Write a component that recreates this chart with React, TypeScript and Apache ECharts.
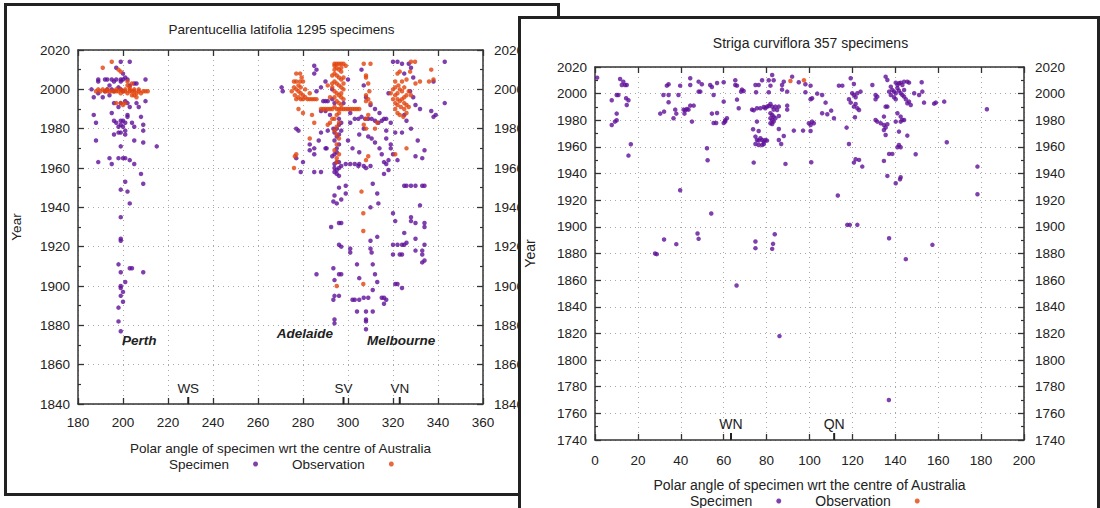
import React, { useEffect, useRef } from "react";
import * as echarts from "echarts";

const FONT = '"Liberation Sans", Arial, Helvetica, sans-serif';
const PURPLE = "#5f0f98";
const ORANGE = "#e2440c";
const INK = "#222";

// ---------- texts ----------
const leftTitle = "Parentucellia latifolia 1295 specimens";
const rightTitle = "Striga curviflora 357 specimens";
const xAxisName = "Polar angle of specimen wrt the centre of Australia";
const yAxisName = "Year";
const seriesNames = ["Specimen", "Observation"];

// ---------- left panel ----------
const leftSpecimens: number[][] = [
  // Perth
  [186, 2000], [187, 1996], [189, 1998], [187, 1987], [188, 1983], [188, 1974], [189, 1963], [189, 2004], [189, 2005],
  [192, 1999], [192, 2005], [193, 2005], [195, 2005], [196, 2004], [197, 2005], [199, 2005], [199, 2004], [200, 2005],
  [193, 2000], [194, 2002], [195, 2000], [196, 1999], [198, 2001], [199, 2000], [200, 1999], [197, 2011], [199, 2014],
  [203, 2014], [200, 2008], [201, 2006], [202, 2005], [203, 2002], [205, 2003], [206, 2003], [196, 1993], [198, 1991],
  [199, 1993], [201, 1994], [202, 1993], [203, 1991], [206, 1993], [207, 1991], [195, 1988], [196, 1984], [197, 1983],
  [198, 1981], [199, 1984], [199, 1982], [200, 1981], [201, 1979], [198, 1978], [199, 1978], [200, 1984], [202, 1986],
  [202, 1987], [201, 1983], [204, 1983], [205, 1981], [208, 1986], [209, 1979], [209, 1982], [196, 1977], [201, 1977],
  [205, 1974], [209, 1973], [199, 1971], [194, 1965], [195, 1962], [198, 1965], [200, 1965], [201, 1965], [203, 1964],
  [205, 1962], [208, 1957], [199, 1949], [202, 1948], [203, 1942], [209, 1952], [201, 1953], [199, 1935], [199, 1924],
  [199, 1923], [210, 1994], [210, 2005], [215, 1971], [191, 1996], [194, 1997], [198, 1911], [199, 1907], [203, 1909],
  [204, 1909], [209, 1907], [201, 1902], [199, 1900], [199, 1899], [200, 1897], [199, 1895], [200, 1892], [198, 1889],
  [198, 1882], [199, 1877],
  // Adelaide
  [270.5, 2001], [271, 1999], [285, 2012], [285, 2008], [286, 1999], [288, 2001], [289, 1994], [290, 1994], [291, 1994],
  [288, 1989], [290, 1989], [292, 1987], [278, 1979], [277, 1980], [283, 1972], [285, 1970], [285, 1967], [283, 1969],
  [290, 1970], [290.5, 1970], [287, 1974], [277, 1965], [280, 1963], [285, 1958], [288, 1958], [279, 1958],
  [293, 2000], [290, 2004], [286, 2010], [291, 1979], [288, 1978],
  // SV
  [293.5, 1980], [295, 1980], [296, 1982], [296, 1977], [294, 1974], [295, 1970], [294, 1967], [295, 1963], [296, 1963],
  [294, 1960], [295, 1957], [296, 1960], [299, 1962], [301, 1962], [303, 1962], [304.6, 1961], [305, 1962], [307, 1961],
  [308, 1960], [310, 1961], [293, 1995], [294, 1993], [296, 1985], [297, 1983], [294, 1978], [296, 1972], [295, 1968],
  [293, 1966], [297, 1961], [294, 1958], [296, 1956], [295, 1976], [297, 1979], [294, 1962], [295, 1959],
  [301, 1983], [303, 1985], [304.6, 1985], [306, 1986], [307.6, 1985], [309, 1985], [310.5, 1985], [312, 1984],
  [313.5, 1983], [315, 1984], [316, 1985], [317, 1985], [319, 1983], [317, 1979], [305, 1977], [307, 1980], [309, 1976],
  [310.5, 1975], [312, 1973], [314, 1970], [315, 1967], [316, 1963], [317, 1962], [318, 1959], [316, 1957],
  [298, 1993], [301, 1988], [303, 1994], [310, 1992], [312, 1990], [314, 1988], [308, 1996], [307, 2002], [306, 2010],
  [300, 2005], [318, 1998], [325, 2008], [330, 1992], [300, 1974], [302, 1970], [305, 1968],
  [296, 1950], [299, 1951], [294, 1946], [293.5, 1943], [295, 1942], [299, 1947], [297, 1944],
  [311, 1952], [313, 1947], [313.5, 1942], [310, 1940],
  [297, 1932], [296, 1932], [292.5, 1930], [296, 1921], [297, 1920], [301, 1919], [310, 1923], [313, 1925], [310, 1919],
  [286, 1906], [293.5, 1909], [296, 1906], [297, 1906], [294, 1903], [294, 1895], [293.5, 1893], [296, 1895], [294, 1883],
  [294, 1881], [301, 1917], [304, 1911], [305, 1904], [302, 1893], [303, 1893], [305, 1893], [307, 1894], [309, 1894],
  [304, 1887], [308, 1887], [311, 1887], [308, 1883], [308, 1882], [308, 1878],
  [310.5, 1917], [311, 1911], [312, 1906], [313, 1902], [311, 1898], [315, 1894], [316, 1894], [316, 1891], [317, 1893],
  [320, 1916], [323, 1916], [324, 1916], [321, 1901], [322, 1901], [324, 1899], [333, 1916], [334, 1913], [333, 1912],
  [330, 1918],
  // VN
  [320, 2014], [322, 2014], [324, 2013], [327, 2013], [328, 2011], [329, 2006], [327.6, 1999], [329, 1996], [325, 1987],
  [324, 1978], [328, 1980], [326, 1984], [321, 1978], [317, 1975], [319, 1972], [319, 1970], [320, 1967], [318, 1964],
  [322, 1964], [325, 1951], [326, 1951], [328, 1951], [330, 1951], [333, 1951], [334, 1951],
  [332, 1941], [328, 1935], [330, 1932], [320, 1937], [321, 1933], [328, 1933], [334, 1932], [334, 1930],
  [320, 1921], [322, 1921], [324, 1921], [325, 1921], [330, 1924], [334, 1921], [333, 1918], [325, 1927], [326, 1922],
  [332, 1990], [337, 1989], [338, 1986], [339, 1987], [343, 1993], [338, 2004], [343, 2014], [331, 1974], [330, 1966],
  [334, 1969], [333, 1965],
];

const leftObservations: number[][] = [
  // Perth
  [191, 2011], [195, 2014], [199, 2009], [188, 1999], [190, 1999], [192, 1999], [193, 1999], [194, 1999], [195, 1999],
  [196, 1999], [197, 1999], [198, 1999], [199, 1998], [200, 1999], [201, 1999], [202, 1998], [203, 1999], [204, 1999],
  [205, 1999], [206, 1998], [207, 1999], [208, 1998], [209, 1999], [210, 1999], [211, 1999], [189, 2000], [191, 2000],
  [193, 2000], [197, 2000], [199, 2000], [201, 2000], [203, 2000], [205, 2000], [207, 2000], [202, 2002], [203, 2001],
  [204, 1997], [205, 1997], [206, 1996], [204, 2003], [197, 1993], [199, 1993], [201, 1993], [200, 1992], [202, 2004],
  [198, 2010],
  // Adelaide
  [276, 2004], [277, 2004], [278.7, 2004], [280, 2004], [276, 2001], [277, 2000], [278, 1999], [279, 1998], [280, 1997],
  [281, 1996], [282, 1995], [283, 1995], [284, 1995], [285, 1995], [286, 1995], [277, 1995], [278, 1996], [279, 1995],
  [280, 1995], [276.4, 1997], [277, 2008], [278.7, 2008], [279.4, 2006], [278, 1990], [280, 1988], [284, 1987],
  [285, 1983], [276.4, 1966], [277, 1967], [276, 1960], [283, 1975], [278, 2002], [279, 2001], [275, 1999], [281, 2000],
  [283, 1998],
  // SV
  [294, 2013], [295, 2013], [296, 2013], [297, 2013], [298, 2013], [295, 2011], [296, 2010], [297, 2009], [294, 2008],
  [295, 2007], [296, 2006], [297, 2005], [294, 2004], [295, 2003], [296, 2002], [297, 2001], [298, 2000], [294, 1999],
  [295, 1998], [296, 1997], [297, 1996], [298, 1995], [295, 1994], [296, 1993], [297, 1992], [294, 1991], [295, 1990],
  [288, 1990], [289, 1990], [290, 1990], [291, 1990], [292, 1990], [293, 1990], [296, 1990], [297, 1990], [298, 1990],
  [299, 1990], [300, 1990], [301, 1990], [302, 1990], [303, 1990], [304, 1990], [305, 1990], [296, 1988], [295, 1987],
  [294, 1985], [296, 1983], [295, 1981], [294, 1979], [295, 1977], [296, 1975], [295, 1972], [294, 1969], [296, 1967],
  [295, 1965], [295, 1963], [294, 2010], [293, 2001], [299, 2012], [291, 2002], [292, 1996], [293, 1985], [292, 1983],
  [291, 1982], [294, 2012], [297, 2011], [293, 2007], [298, 2006], [293, 2003], [298, 2003], [294, 1996], [297, 1998],
  // between SV and VN
  [307, 2013], [310, 2013], [308, 2007], [308, 2006], [309, 2003], [309.5, 1999], [308, 1997], [309, 1995], [308, 1994],
  [310, 1993], [309, 1987], [308, 1985], [307, 1982], [308, 1980], [309, 1966], [308, 1964], [306, 1948], [306.8, 1937],
  [306.8, 1928], [306.8, 1901], [295, 1900], [326, 1970], [321, 1967], [313, 1983], [312, 1980],
  // VN
  [328, 2014], [329.8, 2014], [322, 2008], [323, 2009], [327.6, 2009], [321, 2004], [322.4, 2002], [324, 2004], [325, 2001],
  [326, 2005], [327, 1999], [321, 1997], [322, 1995], [323, 1994], [324, 1995], [325, 1996], [326, 1997], [321, 1993],
  [322, 1992], [323.5, 1991], [325, 1990], [326, 1992], [321, 1990], [322, 1988], [323, 1987], [324.6, 1986], [326, 1988],
  [327, 1991], [328, 1997], [330, 2003], [332, 2004], [337, 2010], [338, 2005], [336, 2004], [319, 1998], [320, 1995],
  [320, 2000], [323, 2000], [322, 1998], [324, 1999], [325, 1993], [321, 2001],
];

const leftMarkerLabels = ["WS", "SV", "VN"];
const leftMarkerAngles = [229, 298, 323];
const leftCityLabels = ["Perth", "Adelaide", "Melbourne"];
const leftCityAngles = [199.6, 293.3, 308.4];
const leftCityYears = [1872.5, 1876, 1872.5];

// ---------- right panel ----------
const rightSpecimens: number[][] = [
  [1, 2012], [11.7, 2011], [12.5, 2006.5], [14, 2006.5], [14.8, 2006.5], [13.2, 2009], [10.9, 1999], [10.1, 1999],
  [7.8, 1995], [14.5, 1996.5], [15.6, 1995], [14.8, 1991.5], [10.1, 1985], [10.1, 1980], [9.3, 1979], [7.8, 1976.5],
  [16.7, 1962], [15.6, 1953.5],
  [34.3, 2007], [33.5, 2006], [39.7, 2006], [44.4, 2011.5], [44.4, 2006.5], [48.3, 2009], [49.8, 2007], [48.3, 2001.5],
  [49.1, 2001.5], [31.9, 1999], [34.3, 1999], [38.9, 1999], [34.3, 1993.5], [30.4, 1985], [32.2, 1986.5], [37.4, 1988],
  [37.9, 1985], [36.6, 1981.5], [41.3, 1988], [42.1, 1987.5], [42.8, 1988.5], [43.6, 1988], [44.4, 1991], [46, 1991],
  [41.7, 1985], [45.2, 1979], [52.2, 1959], [52.5, 1950], [39.7, 1927.5], [54.2, 1910], [32.2, 1890.5], [37.9, 1887],
  [47.8, 1895], [48.3, 1891], [28, 1880], [28.8, 1879.5],
  [53.7, 2006.5], [54.5, 2005], [56.9, 2008], [60, 2008.5], [65.4, 2010], [65.4, 2006.5], [66.2, 2006], [68.5, 2003],
  [69.3, 2002], [68.1, 2001.5], [55.3, 1999], [60, 1994], [66.2, 1995.5], [67, 1989], [54.5, 1985], [56.9, 1985.5],
  [55.3, 1978], [56.5, 1978], [60.7, 1980], [61.5, 1981.5], [60, 1978], [60.7, 1979],
  [74.8, 2006.5], [76.3, 2006.5], [77.9, 2010], [81, 2010], [82.6, 2014], [83.3, 2010], [75.1, 2001], [81, 2001],
  [81.8, 2006], [87.2, 2006.5], [88, 2009], [91.9, 2012.75], [95, 2008.5], [98.1, 2007], [100.5, 2006], [87.2, 2003],
  [89.6, 2001.5], [98.1, 2001],
  [73.2, 1988], [74, 1987.5], [75.5, 1989], [77.1, 1989], [78.7, 1990], [79.4, 1989], [80.2, 1990.25], [81, 1990.75],
  [81.8, 1992.25], [82.6, 1990.25], [83.3, 1988], [84.1, 1990.25], [85.7, 1990.25], [84.9, 1987.75],
  [81.8, 1985.25], [82.6, 1984], [83.3, 1982.75], [81.8, 1981.5], [82.6, 1980.25], [83.3, 1979], [81.8, 1977.75],
  [82.6, 1977.25], [84.1, 1981.5], [85.7, 1983.25],
  [75.5, 1979], [73.7, 1973.25], [76.3, 1972], [74.8, 1967.75], [75.5, 1965.25], [76.3, 1964.75], [77.1, 1966.5],
  [77.9, 1965.25], [78.7, 1964], [79.4, 1965.25], [80.2, 1964.75], [74.8, 1962.25], [76.3, 1961.5], [77.9, 1961.5],
  [78.7, 1962.25],
  [85.7, 1973.5], [85.7, 1965.25], [86.8, 1962.25], [89.6, 1988], [89.6, 1991], [88, 1968.25], [92.7, 1972.25],
  [97, 1972.25], [100.5, 1972], [101.2, 1979], [99.7, 1977.75], [100.5, 1976.5], [102, 1977.75],
  [100.5, 1995.75], [101.2, 1996.5], [103.6, 2000], [105.9, 1999], [107.5, 1993.25], [105.9, 1985.25], [108.3, 1984.5],
  [110.1, 1987.25], [111.4, 1981.5],
  [74, 1948.25], [88.8, 1947.25], [100.8, 1948.5], [113.2, 1923.5], [74.8, 1889], [74.8, 1884], [83.8, 1894.5],
  [83, 1887.25], [82.6, 1883.5], [86, 1818], [66, 1856],
  [113.7, 2006], [115.3, 2006], [119.2, 2011.5], [120.7, 2007.25], [119.9, 2000.25], [120.7, 1999], [121.5, 1997.25],
  [122.3, 2000.25], [123.8, 2001.5], [118.4, 1995.75], [119.2, 1993.25], [121.5, 1992.25], [120.7, 1990.25],
  [122.3, 1989], [123.1, 1987.75], [121.2, 1982.25], [117.3, 1974.5], [118.4, 1962.25], [120.7, 1948.25],
  [121.5, 1950.75], [123.1, 1950.25], [124.6, 1945.25], [117.6, 1901.5], [118.8, 1901.5], [122.3, 1901.5],
  [129.3, 2006.5], [130.8, 1999], [130.8, 1995.75], [131.6, 1997.75], [130.8, 1980.25], [131.6, 1979], [133.2, 1977.75],
  [134.7, 1982.75], [135.5, 1990.25], [136.3, 1990.25], [134.7, 1976.5], [135.5, 1974.5], [136.3, 1977], [135.5, 1969],
  [134.7, 1972.75],
  [135.5, 2012.75], [136.3, 2010.25], [137.9, 2005.25], [138.6, 2002.75], [139.4, 2001.5], [140.2, 2000.25],
  [141, 2006.5], [141.7, 2007.75], [142.5, 2008.25], [143.3, 2006.5], [144.1, 2009], [145.6, 2009], [146.4, 2008.25],
  [140.2, 2008.25], [141, 2004], [141.7, 2002.25], [142.5, 2000.25], [143.3, 1999], [139.4, 1997.25], [140.2, 1995.75],
  [137.9, 1999], [137.1, 2001.5], [144.1, 1997.75], [144.9, 1995.75], [146.4, 1994], [145.6, 1992.75], [147.2, 1991.5],
  [144.1, 2002.75],
  [141, 1985.25], [142.5, 1982.75], [143.3, 1980.25], [144.1, 1980.25], [142.5, 1979], [140.2, 1979], [141.7, 1971.5],
  [145.6, 1968.5], [141.7, 1961.5], [142.5, 1959.75], [141, 1959.75], [137.1, 1954.75], [138.6, 1954.75],
  [134.7, 1949.5], [136.3, 1938.25], [140.2, 1932.75], [142.5, 1937.25], [142.2, 1935.75], [137.1, 1891.5],
  [144.9, 1875.75], [137, 1770],
  [149.5, 1954.5], [148.8, 2000.25], [151.1, 1999], [152.6, 2001.5], [152.3, 2008.5], [153.4, 1993.25], [158.1, 1992.5],
  [158.9, 1993.25], [162.8, 1994], [164, 1963.5], [157.3, 1886.5], [178.3, 1945.25], [178.3, 1924.5], [182.7, 1988.25],
];

const rightObservations: number[][] = [
  [91.1, 2009.5], [97.4, 2010],
];

const rightMarkerLabels = ["WN", "QN"];
const rightMarkerAngles = [63.4, 111.5];

// ---------- chart builder ----------
type PanelCfg = {
  title: string;
  titleTop: number;
  textSize: number;
  grid: { left: number; top: number; width: number; height: number };
  xMin: number;
  xMax: number;
  yMin: number;
  yMax: number;
  specimens: number[][];
  observations: number[][];
  markerLabels: string[];
  markerAngles: number[];
  cityLabels: string[];
  cityAngles: number[];
  cityYears: number[];
  cityAlign: string[];
  xNameGap: number;
  yNameGap: number;
  xLabelMargin: number;
  legendLeft: number;
  legendTop: number;
};

const plain = (v: number) => String(v);

function buildOption(c: PanelCfg) {
  const axisLine = { show: true, onZero: false, lineStyle: { color: "#333", width: 1.5 } };
  const tick = { show: true, inside: true, length: 6, lineStyle: { color: "#333", width: 1.3 } };
  const minor = { show: true, splitNumber: 2, length: 3, lineStyle: { color: "#333", width: 1.2 } };
  const label = { fontSize: 13.5, fontFamily: FONT, color: INK, formatter: plain };
  const split = { show: true, lineStyle: { color: "#a8a8a8", width: 1, type: [1, 4] as any } };
  const nameStyle = { fontSize: c.textSize, fontFamily: FONT, color: INK };

  return {
    animation: false,
    backgroundColor: "#fff",
    title: {
      text: c.title,
      left: c.grid.left + c.grid.width / 2 - 4,
      textAlign: "center",
      top: c.titleTop,
      textStyle: { fontSize: c.textSize, fontWeight: "normal", fontFamily: FONT, color: INK },
    },
    legend: {
      data: seriesNames,
      left: c.legendLeft,
      top: c.legendTop,
      align: "right",
      icon: "circle",
      itemWidth: 43,
      itemHeight: 5,
      itemGap: 34,
      selectedMode: false,
      textStyle: { fontSize: c.textSize, fontFamily: FONT, color: INK },
    },
    grid: { ...c.grid, containLabel: false, outerBoundsMode: "none" },
    xAxis: [
      {
        type: "value",
        min: c.xMin,
        max: c.xMax,
        interval: 20,
        position: "bottom",
        axisLine,
        axisTick: tick,
        axisLabel: { ...label, margin: c.xLabelMargin },
        splitLine: split,
        name: xAxisName,
        nameLocation: "middle",
        nameGap: c.xNameGap,
        nameTextStyle: nameStyle,
      },
      {
        type: "value",
        min: c.xMin,
        max: c.xMax,
        interval: 20,
        position: "top",
        axisLine,
        axisTick: tick,
        axisLabel: { show: false },
        splitLine: { show: false },
      },
    ],
    yAxis: [
      {
        type: "value",
        min: c.yMin,
        max: c.yMax,
        interval: 20,
        position: "left",
        axisLine,
        axisTick: tick,
        minorTick: minor,
        axisLabel: { ...label, margin: 8 },
        splitLine: split,
        name: yAxisName,
        nameLocation: "middle",
        nameRotate: 90,
        nameGap: c.yNameGap,
        nameTextStyle: nameStyle,
      },
      {
        type: "value",
        min: c.yMin,
        max: c.yMax,
        interval: 20,
        position: "right",
        axisLine,
        axisTick: tick,
        minorTick: minor,
        axisLabel: { ...label, margin: 11 },
        splitLine: { show: false },
      },
    ],
    series: [
      {
        type: "scatter",
        name: seriesNames[0],
        data: c.specimens,
        symbol: "circle",
        symbolSize: 4.5,
        itemStyle: { color: PURPLE },
        z: 3,
      },
      {
        type: "scatter",
        name: seriesNames[1],
        data: c.observations,
        symbol: "circle",
        symbolSize: 4.5,
        itemStyle: { color: ORANGE },
        z: 4,
      },
      {
        type: "custom",
        silent: true,
        clip: false,
        z: 5,
        data: c.markerAngles.map((a) => [a, c.yMin]),
        renderItem: (params: any, api: any) => {
          const p = api.coord([api.value(0), c.yMin]);
          return {
            type: "group",
            children: [
              {
                type: "line",
                shape: { x1: p[0], y1: p[1], x2: p[0], y2: p[1] - 7 },
                style: { stroke: "#222", lineWidth: 2 },
              },
              {
                type: "text",
                x: p[0],
                y: p[1] - 9,
                style: {
                  text: c.markerLabels[params.dataIndex],
                  align: "center",
                  verticalAlign: "bottom",
                  fontSize: c.textSize,
                  fontFamily: FONT,
                  fill: INK,
                },
              },
            ],
          };
        },
      },
      {
        type: "custom",
        silent: true,
        clip: false,
        z: 6,
        data: c.cityAngles.map((a, i) => [a, c.cityYears[i]]),
        renderItem: (params: any, api: any) => {
          const p = api.coord([api.value(0), api.value(1)]);
          return {
            type: "text",
            x: p[0],
            y: p[1],
            style: {
              text: c.cityLabels[params.dataIndex],
              align: c.cityAlign[params.dataIndex],
              verticalAlign: "middle",
              fontSize: 13.5,
              fontFamily: FONT,
              fontWeight: "bold",
              fontStyle: "italic",
              fill: INK,
            },
          };
        },
      },
    ],
  };
}

function Panel({ cfg, style }: { cfg: PanelCfg; style: React.CSSProperties }) {
  const ref = useRef<HTMLDivElement>(null);
  useEffect(() => {
    if (!ref.current) return;
    const chart = echarts.init(ref.current, undefined, { renderer: "svg" });
    chart.setOption(buildOption(cfg) as any);
    return () => chart.dispose();
  }, [cfg]);
  return (
    <div
      style={{
        position: "absolute",
        boxSizing: "border-box",
        border: "3px solid #222",
        background: "#fff",
        overflow: "hidden",
        ...style,
      }}
    >
      <div ref={ref} style={{ width: "100%", height: "100%" }} />
    </div>
  );
}

const leftCfg: PanelCfg = {
  title: leftTitle,
  titleTop: 11,
  textSize: 13.5,
  grid: { left: 71, top: 44, width: 405, height: 354 },
  xMin: 180,
  xMax: 360,
  yMin: 1840,
  yMax: 2020,
  specimens: leftSpecimens,
  observations: leftObservations,
  markerLabels: leftMarkerLabels,
  markerAngles: leftMarkerAngles,
  cityLabels: leftCityLabels,
  cityAngles: leftCityAngles,
  cityYears: leftCityYears,
  cityAlign: ["left", "right", "left"],
  xNameGap: 37,
  yNameGap: 55,
  xLabelMargin: 11,
  legendLeft: 157,
  legendTop: 446,
};

const rightCfg: PanelCfg = {
  title: rightTitle,
  titleTop: 12,
  textSize: 14,
  grid: { left: 74, top: 48, width: 429, height: 373 },
  xMin: 0,
  xMax: 200,
  yMin: 1740,
  yMax: 2020,
  specimens: rightSpecimens,
  observations: rightObservations,
  markerLabels: rightMarkerLabels,
  markerAngles: rightMarkerAngles,
  cityLabels: [],
  cityAngles: [],
  cityYears: [],
  cityAlign: [],
  xNameGap: 38,
  yNameGap: 58,
  xLabelMargin: 13,
  legendLeft: 164,
  legendTop: 470,
};

export default function App() {
  return (
    <div
      style={{
        position: "fixed",
        left: 0,
        top: 0,
        width: 1100,
        height: 508,
        overflow: "hidden",
        background: "#fff",
      }}
    >
      <Panel cfg={leftCfg} style={{ left: 4, top: 3, width: 556, height: 493, zIndex: 1 }} />
      <Panel cfg={rightCfg} style={{ left: 518, top: 16, width: 582, height: 520, zIndex: 2 }} />
    </div>
  );
}
